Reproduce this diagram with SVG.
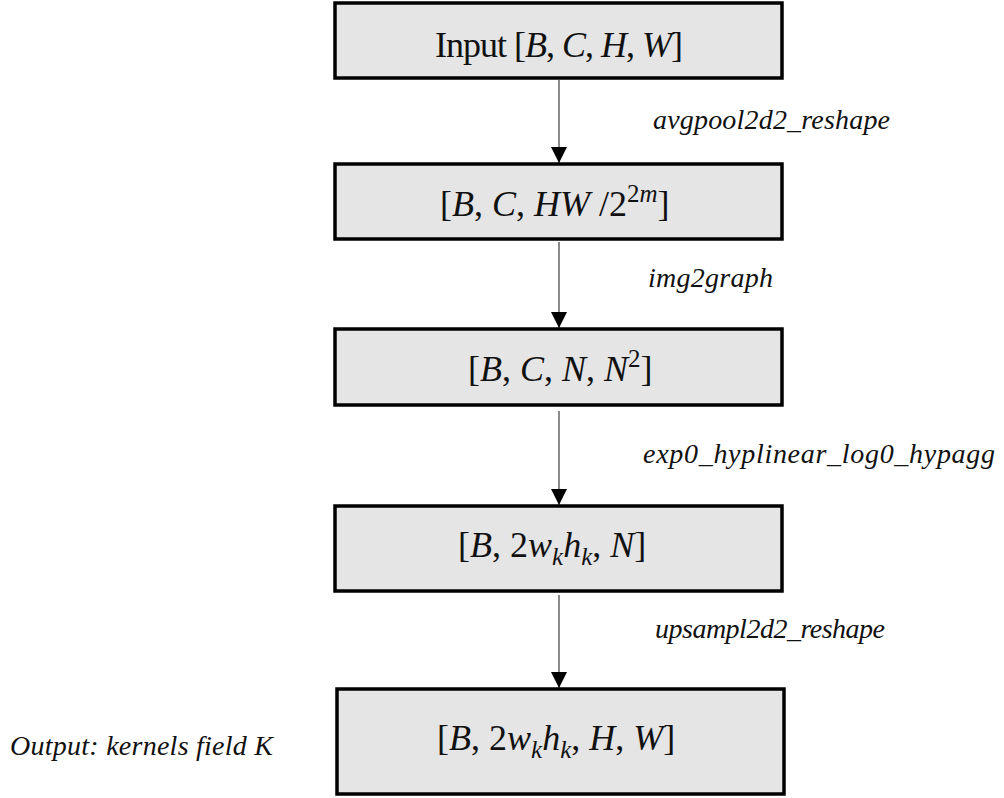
<svg xmlns="http://www.w3.org/2000/svg" width="1004" height="798" viewBox="0 0 1004 798">
<defs>
<style>
.box{fill:#e5e5e5;stroke:#000;stroke-width:3.5}
.bt{font-family:"Liberation Serif","Times New Roman",serif;font-size:36px;fill:#111}
.i{font-style:italic}
.lbl{font-family:"Liberation Serif","Times New Roman",serif;font-size:28px;font-style:italic;fill:#111}
.edge{stroke:#5a5a5a;stroke-width:1.4;fill:none}
</style>
<marker id="ah" markerUnits="userSpaceOnUse" markerWidth="18" markerHeight="16" refX="16" refY="8" orient="auto">
<path d="M0,0 L16,8 L0,16 Z" fill="#000"/>
</marker>
</defs>
<rect width="1004" height="798" fill="#fff"/>
<g id="connectors">
<line class="edge" x1="559" y1="80" x2="559" y2="163" marker-end="url(#ah)"/>
<line class="edge" x1="559" y1="242" x2="559" y2="328" marker-end="url(#ah)"/>
<line class="edge" x1="559" y1="411" x2="559" y2="505" marker-end="url(#ah)"/>
<line class="edge" x1="559" y1="595" x2="559" y2="688" marker-end="url(#ah)"/>
</g>
<g id="node-input">
<rect class="box" x="335" y="3" width="447" height="75"/>
<text class="bt" x="435" y="57" textLength="248" lengthAdjust="spacing">Input [<tspan class="i">B</tspan>, <tspan class="i">C</tspan>, <tspan class="i">H</tspan>, <tspan class="i">W</tspan>]</text>
</g>
<g id="node-pooled">
<rect class="box" x="335" y="164" width="447" height="75"/>
<text class="bt" x="440" y="216">[<tspan class="i">B</tspan>, <tspan class="i">C</tspan>, <tspan class="i">HW</tspan> /2<tspan dy="-14" font-size="25">2</tspan><tspan class="i" font-size="25">m</tspan><tspan dy="14">]</tspan></text>
</g>
<g id="node-graph">
<rect class="box" x="335" y="329" width="447" height="76"/>
<text class="bt" x="468" y="381">[<tspan class="i">B</tspan>, <tspan class="i">C</tspan>, <tspan class="i">N</tspan>, <tspan class="i">N</tspan><tspan dy="-14" font-size="25">2</tspan><tspan dy="14">]</tspan></text>
</g>
<g id="node-kernels">
<rect class="box" x="335" y="506" width="447" height="85"/>
<text class="bt" x="458" y="557">[<tspan class="i">B</tspan>, 2<tspan class="i">w</tspan><tspan class="i" dy="8" font-size="25">k</tspan><tspan class="i" dy="-8">h</tspan><tspan class="i" dy="8" font-size="25">k</tspan><tspan dy="-8">, </tspan><tspan class="i">N</tspan>]</text>
</g>
<g id="node-output">
<rect class="box" x="337" y="689" width="447" height="105"/>
<text class="bt" x="437" y="750">[<tspan class="i">B</tspan>, 2<tspan class="i">w</tspan><tspan class="i" dy="8" font-size="25">k</tspan><tspan class="i" dy="-8">h</tspan><tspan class="i" dy="8" font-size="25">k</tspan><tspan dy="-8">, </tspan><tspan class="i">H</tspan>, <tspan class="i">W</tspan>]</text>
</g>
<g id="labels">
<text class="lbl" x="653" y="129" textLength="237" lengthAdjust="spacing">avgpool2d2_reshape</text>
<text class="lbl" x="648" y="287" textLength="125" lengthAdjust="spacing">img2graph</text>
<text class="lbl" x="643" y="463" textLength="352" lengthAdjust="spacing">exp0_hyplinear_log0_hypagg</text>
<text class="lbl" x="655" y="638" textLength="230" lengthAdjust="spacing">upsampl2d2_reshape</text>
<text class="lbl" x="10" y="755" textLength="263" lengthAdjust="spacing">Output: kernels field K</text>
</g>
</svg>
